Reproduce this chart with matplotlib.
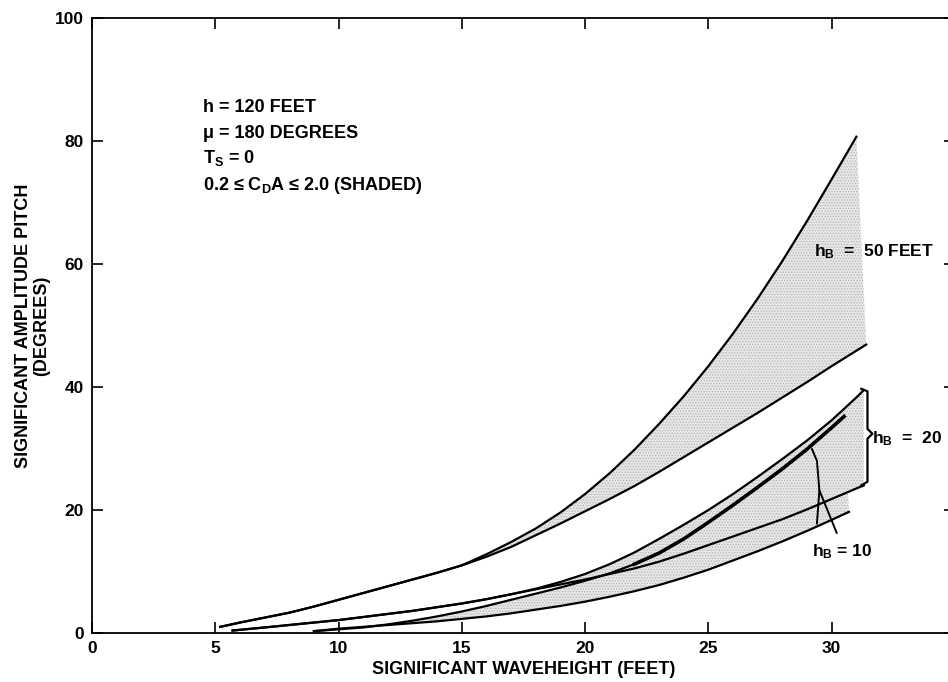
import matplotlib.pyplot as plt
import numpy as np

plt.rcParams["font.family"] = ["Liberation Sans", "DejaVu Sans"]
plt.rcParams["font.weight"] = "bold"
plt.rcParams["mathtext.fontset"] = "custom"
plt.rcParams["mathtext.rm"] = "Liberation Sans:bold"
plt.rcParams["mathtext.default"] = "rm"
plt.rcParams["hatch.linewidth"] = 0.6

# h_B = 50 feet band (upper / lower edge of the shaded region)
x50_hi = [5.2, 6, 7, 8, 9, 10, 11, 12, 13, 14, 15, 16, 17, 18, 19, 20, 21, 22, 23, 24, 25,
          26, 27, 28, 29, 30, 31.0]
y50_hi = [1.0, 1.7, 2.5, 3.3, 4.3, 5.4, 6.5, 7.6, 8.7, 9.8, 11.0, 12.8, 14.8, 17.0, 19.6, 22.6,
          26.0, 29.8, 34.0, 38.5, 43.4, 48.7, 54.4, 60.5, 67.0, 73.8, 80.7]
x50_lo = [5.2, 6, 7, 8, 9, 10, 11, 12, 13, 14, 15, 16, 17, 18, 19, 20, 21, 22, 23, 24, 25,
          26, 27, 28, 29, 30, 31, 31.4]
y50_lo = [1.0, 1.7, 2.5, 3.3, 4.3, 5.4, 6.5, 7.6, 8.7, 9.8, 11.0, 12.4, 14.0, 15.9, 17.8, 19.8,
          21.8, 23.9, 26.2, 28.6, 31.0, 33.4, 35.8, 38.3, 40.8, 43.4, 45.9, 46.9]

# h_B = 20 feet band
x20 = [5.7, 7, 8, 9, 10, 11, 12, 13, 14, 15, 16, 17, 18, 19, 20, 21, 22, 23, 24, 25, 26, 27,
       28, 29, 30, 31, 31.3]
y20_hi = [0.4, 0.9, 1.3, 1.7, 2.1, 2.6, 3.1, 3.6, 4.2, 4.8, 5.5, 6.3, 7.2, 8.3, 9.6, 11.2,
          13.1, 15.3, 17.6, 20.0, 22.6, 25.4, 28.3, 31.3, 34.6, 38.3, 39.5]
y20_lo = [0.4, 0.9, 1.3, 1.7, 2.1, 2.6, 3.1, 3.6, 4.2, 4.8, 5.5, 6.3, 7.1, 7.9, 8.7, 9.6,
          10.5, 11.6, 12.9, 14.3, 15.7, 17.1, 18.5, 20.1, 21.8, 23.5, 24.0]

# h_B = 10 feet band
x10_hi = [9, 10, 11, 12, 13, 14, 15, 16, 17, 18, 19, 20, 21, 22, 23, 24, 25, 26, 27, 28, 29,
          30, 30.5]
y10_hi = [0.3, 0.6, 0.9, 1.4, 2.0, 2.7, 3.5, 4.4, 5.4, 6.4, 7.4, 8.5, 9.7, 11.2, 13.0, 15.3,
          18.0, 20.8, 23.7, 26.7, 29.9, 33.4, 35.2]
x10_lo = [9, 10, 11, 12, 13, 14, 15, 16, 17, 18, 19, 20, 21, 22, 23, 24, 25, 26, 27, 28, 29,
          30, 30.7]
y10_lo = [0.3, 0.7, 1.0, 1.3, 1.6, 1.9, 2.3, 2.7, 3.2, 3.8, 4.4, 5.1, 5.9, 6.8, 7.8, 9.0,
          10.3, 11.8, 13.3, 14.9, 16.6, 18.4, 19.7]

x_ticks = [0, 5, 10, 15, 20, 25, 30]
y_ticks = [0, 20, 40, 60, 80, 100]

fig = plt.figure(figsize=(9.48, 6.82), dpi=100)
ax = fig.add_axes([92 / 948, 49 / 682, 863 / 948, 615 / 682])


def band(xh, yh, xl, yl):
    px = np.concatenate([xh, xl[::-1]])
    py = np.concatenate([yh, yl[::-1]])
    ax.fill(px, py, facecolor="#e6e6e6", edgecolor="#b5b5b5", hatch="......", linewidth=0, zorder=1)
    ax.plot(xh, yh, color="black", lw=1.6, zorder=3)
    ax.plot(xl, yl, color="black", lw=1.6, zorder=3)


band(x50_hi, y50_hi, x50_lo, y50_lo)
band(x20, y20_hi, x20, y20_lo)
band(x10_hi, y10_hi, x10_lo, y10_lo)
# heavier upper line for the 10 ft band
ax.plot(x10_hi[13:], y10_hi[13:], color="black", lw=2.6, zorder=3)

# brace for h_B = 20
ax.plot([31.2, 31.45, 31.45, 31.65, 31.45, 31.45, 31.2],
        [39.7, 39.3, 33.2, 32.4, 31.6, 24.6, 24.0], color="black", lw=1.6, zorder=4)
# bracket and pointer for h_B = 10
ax.plot([29.2, 29.4, 29.5, 29.4], [29.9, 28.0, 23.2, 17.8], color="black", lw=1.4, zorder=4)
ax.plot([29.5, 30.2], [23.2, 16.3], color="black", lw=1.4, zorder=4)

fs = 13
ax.text(4.5, 85.4, "h = 120 FEET", fontsize=fs, va="center")
ax.text(4.5, 81.3, "\u03bc = 180 DEGREES", fontsize=fs, va="center")
ax.text(4.5, 77.2, "T$_{S}$ = 0", fontsize=fs, va="center")
ax.text(4.5, 72.8, "0.2 \u2264 C$_{D}$A \u2264 2.0 (SHADED)", fontsize=fs, va="center")
ax.text(29.3, 62.0, "h$_{B}$  =  50 FEET", fontsize=12.5, va="center")
ax.text(31.65, 31.6, "h$_{B}$  =  20", fontsize=12.5, va="center")
ax.text(29.2, 13.3, "h$_{B}$ = 10", fontsize=12.5, va="center")

ax.set_xlim(0, 35)
ax.set_ylim(0, 100)
ax.set_xticks(x_ticks)
ax.set_yticks(y_ticks)
ax.tick_params(direction="in", length=8, width=1.2, top=True, right=True, labelsize=12.5, pad=6)
for s in ax.spines.values():
    s.set_linewidth(1.3)

ax.set_xlabel("SIGNIFICANT WAVEHEIGHT (FEET)", fontsize=13, fontweight="bold", labelpad=3)
ax.set_ylabel("SIGNIFICANT AMPLITUDE PITCH\n(DEGREES)", fontsize=13, fontweight="bold",
              labelpad=3, linespacing=1.15)

fig.savefig("out.png", dpi=100)
